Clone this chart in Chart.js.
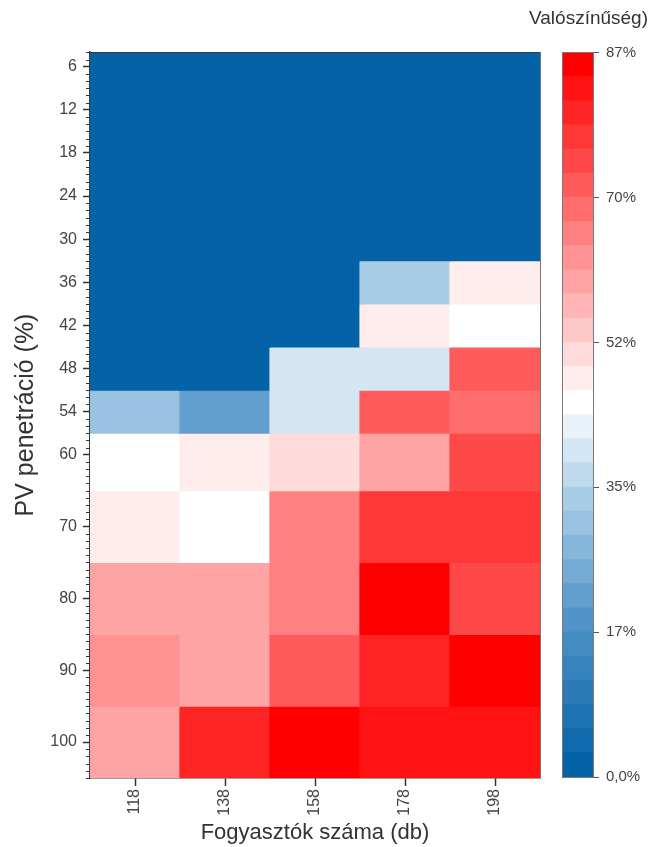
<!DOCTYPE html>
<html>
<head>
<meta charset="utf-8">
<title>PV penetráció – valószínűség</title>
<script src="https://cdn.jsdelivr.net/npm/chart.js@4.4.1/dist/chart.umd.min.js"></script>
<style>
  html, body { margin: 0; padding: 0; background: #ffffff; }
  #wrap { position: relative; width: 652px; height: 847px; overflow: hidden; }
  #main { position: absolute; left: 0; top: 0; }
  #scale { position: absolute; left: 500px; top: 0; }
</style>
</head>
<body>
<div id="wrap">
  <canvas id="main" width="652" height="847"></canvas>
  <canvas id="scale" width="152" height="847"></canvas>
</div>
<script>
// Fogyasztók száma (db) – oszlopok
const consumers = ['118', '138', '158', '178', '198'];
// PV penetráció (%) – sorok
const penetration = [6, 12, 18, 24, 30, 36, 42, 48, 54, 60, 70, 80, 90, 100];
// Valószínűség (%) soronként, a fogyasztószám szerinti sorrendben
const probRows = [
  [0, 0, 0, 0, 0],            // 6
  [0, 0, 0, 0, 0],            // 12
  [0, 0, 0, 0, 0],            // 18
  [0, 0, 0, 0, 0],            // 24
  [0, 0, 0, 0, 0],            // 30
  [0, 0, 0, 33, 48],          // 36
  [0, 0, 0, 48.5, 45],        // 42
  [0, 0, 39, 39, 71],         // 48
  [30.5, 22, 39, 70.5, 67.5], // 54
  [45, 48, 50.5, 59.5, 74],   // 60
  [48, 45, 66, 77, 77],       // 70
  [59.5, 59.5, 66, 86, 74],   // 80
  [62.5, 59.5, 71, 80, 86],   // 90
  [59.5, 80.5, 86, 83, 83]    // 100
];
// Függőleges tengely feliratozott osztásai
const yTickValues = [6, 12, 18, 24, 30, 36, 42, 48, 54, 60, 70, 80, 90, 100];
// Színskála
const scaleMax = 87;
const scaleSteps = 30;
const scaleTickValues = [0, 17.4, 34.8, 52.2, 69.6, 87];
const scaleTickLabels = ['0,0%', '17%', '35%', '52%', '70%', '87%'];

const FONT = "'Liberation Sans', Arial, Helvetica, sans-serif";

// blue ramp: 0 = white, 1 = deep blue
const blueStops = [
  [0.00, [255, 255, 255]],
  [0.25, [175, 208, 232]],
  [0.60, [80, 148, 200]],
  [1.00, [4, 98, 166]]
];
function blueRamp(f) {
  for (let i = 1; i < blueStops.length; i++) {
    const [f1, c1] = blueStops[i];
    const [f0, c0] = blueStops[i - 1];
    if (f <= f1) {
      const t = (f - f0) / (f1 - f0);
      const c = c0.map((v, j) => Math.round(v + (c1[j] - v) * t));
      return `rgb(${c[0]},${c[1]},${c[2]})`;
    }
  }
  const c = blueStops[blueStops.length - 1][1];
  return `rgb(${c[0]},${c[1]},${c[2]})`;
}
function bandColor(k) {
  const half = scaleSteps / 2;
  if (k >= half) {
    const f = (k - half) / (scaleSteps - 1 - half);
    const g = Math.round(255 * (1 - f));
    return `rgb(255,${g},${g})`;
  }
  return blueRamp((half - k) / half);
}
function colorFor(v) {
  const step = scaleMax / scaleSteps;
  const k = Math.min(scaleSteps - 1, Math.max(0, Math.floor(v / step + 1e-9)));
  return bandColor(k);
}

// row edges: halfway between neighbouring penetration levels
function rowEdges(i) {
  const p = penetration;
  const lo = i === 0 ? p[0] - (p[1] - p[0]) / 2 : (p[i - 1] + p[i]) / 2;
  const hi = i === p.length - 1 ? p[i] + (p[i] - p[i - 1]) / 2 : (p[i] + p[i + 1]) / 2;
  return [lo, hi];
}

const heatDatasets = penetration.map((p, i) => {
  const [lo, hi] = rowEdges(i);
  return {
    label: String(p),
    data: consumers.map(() => [lo, hi]),
    backgroundColor: probRows[i].map(colorFor),
    borderWidth: 0,
    inflateAmount: 0.6,
    barPercentage: 1,
    categoryPercentage: 1,
    grouped: false,
    clip: 0
  };
});

// frame lines and minor ticks of the heatmap
const framePlugin = {
  id: 'frame',
  afterDraw(chart) {
    const { ctx, chartArea: a, scales } = chart;
    const y = scales.y;
    ctx.save();
    ctx.strokeStyle = '#3a3a3a';
    ctx.lineWidth = 1.2;
    ctx.beginPath();
    ctx.moveTo(a.left, a.top + 0.5);
    ctx.lineTo(a.right, a.top + 0.5);
    ctx.stroke();
    ctx.strokeStyle = '#777';
    ctx.lineWidth = 1;
    ctx.beginPath();
    ctx.moveTo(a.right + 0.5, a.top);
    ctx.lineTo(a.right + 0.5, a.bottom);
    ctx.stroke();
    ctx.strokeStyle = '#333';
    ctx.lineWidth = 1;
    ctx.beginPath();
    for (let v = Math.ceil(y.min); v <= y.max; v++) {
      if (yTickValues.includes(v)) continue;
      const py = Math.round(y.getPixelForValue(v)) + 0.5;
      ctx.moveTo(a.left - 4, py);
      ctx.lineTo(a.left, py);
    }
    ctx.stroke();
    ctx.restore();
  }
};

new Chart(document.getElementById('main'), {
  type: 'bar',
  data: { labels: consumers, datasets: heatDatasets },
  options: {
    responsive: false,
    animation: false,
    devicePixelRatio: 1,
    layout: { padding: { top: 52, right: 112, left: 0, bottom: 0 } },
    plugins: { legend: { display: false }, tooltip: { enabled: false } },
    scales: {
      x: {
        type: 'category',
        offset: true,
        grid: { display: true, offset: false, drawOnChartArea: false, drawTicks: true, tickLength: 8, tickColor: '#333', tickWidth: 1.5 },
        border: { display: true, color: '#3a3a3a', width: 1.5 },
        ticks: { minRotation: 90, maxRotation: 90, padding: 3, color: '#444', font: { size: 16, family: FONT } },
        title: { display: true, text: 'Fogyasztók száma (db)', color: '#333', font: { size: 22, family: FONT }, padding: { top: 0, bottom: 1 } },
        afterFit(s) { s.height = 69; }
      },
      y: {
        type: 'linear',
        reverse: true,
        min: 3.95,
        max: 105,
        afterBuildTicks(s) { s.ticks = yTickValues.map(v => ({ value: v })); },
        grid: { display: true, drawOnChartArea: false, drawTicks: true, tickLength: 7, tickColor: '#333', tickWidth: 1.5 },
        border: { display: true, color: '#3a3a3a', width: 1.5 },
        ticks: { autoSkip: false, padding: 6, color: '#444', font: { size: 16, family: FONT } },
        title: { display: true, text: 'PV penetráció (%)', color: '#333', font: { size: 25, family: FONT }, padding: { top: 11, bottom: 0 } },
        afterFit(s) { s.width = 90; }
      }
    }
  },
  plugins: [framePlugin]
});

// colour scale bar
const bandStep = scaleMax / scaleSteps;
const scaleDatasets = Array.from({ length: scaleSteps }, (_, k) => ({
  data: [[k * bandStep, (k + 1) * bandStep]],
  backgroundColor: bandColor(k),
  borderWidth: 0,
  inflateAmount: 0.6,
  barPercentage: 1,
  categoryPercentage: 1,
  grouped: false,
  clip: 0,
  xAxisID: 'x',
  yAxisID: 'y'
}));

const scaleFrame = {
  id: 'scaleFrame',
  afterDraw(chart) {
    const { ctx, chartArea: a } = chart;
    ctx.save();
    ctx.strokeStyle = '#7a7a7a';
    ctx.lineWidth = 1;
    ctx.strokeRect(Math.round(a.left) - 0.5, Math.round(a.top) - 0.5, Math.round(a.right - a.left) + 1, Math.round(a.bottom - a.top) + 1);
    ctx.restore();
  }
};

new Chart(document.getElementById('scale'), {
  type: 'bar',
  data: { labels: [''], datasets: scaleDatasets },
  options: {
    responsive: false,
    animation: false,
    devicePixelRatio: 1,
    layout: { padding: { top: 0, right: 4, left: 0, bottom: 70 } },
    plugins: {
      legend: { display: false },
      tooltip: { enabled: false },
      title: {
        display: true,
        text: 'Valószínűség)',
        align: 'end',
        color: '#333',
        font: { size: 19, family: FONT, weight: 'normal' },
        padding: { top: 7, bottom: 23 }
      }
    },
    scales: {
      x: { display: false, offset: true },
      y: {
        position: 'right',
        min: 0,
        max: scaleMax,
        afterBuildTicks(s) { s.ticks = scaleTickValues.map(v => ({ value: v })); },
        grid: { display: true, drawOnChartArea: false, drawTicks: true, tickLength: 6, tickColor: '#555', tickWidth: 1 },
        border: { display: false },
        ticks: {
          autoSkip: false,
          padding: 7,
          color: '#444',
          font: { size: 15, family: FONT },
          callback(value, index) { return scaleTickLabels[index]; }
        },
        afterFit(s) { s.width = 55; }
      },
      gap: {
        type: 'linear',
        position: 'left',
        display: true,
        min: 0,
        max: scaleMax,
        grid: { display: false, drawTicks: false },
        border: { display: false },
        ticks: { display: false },
        afterFit(s) { s.width = 63; }
      }
    }
  },
  plugins: [scaleFrame]
});
</script>
</body>
</html>
